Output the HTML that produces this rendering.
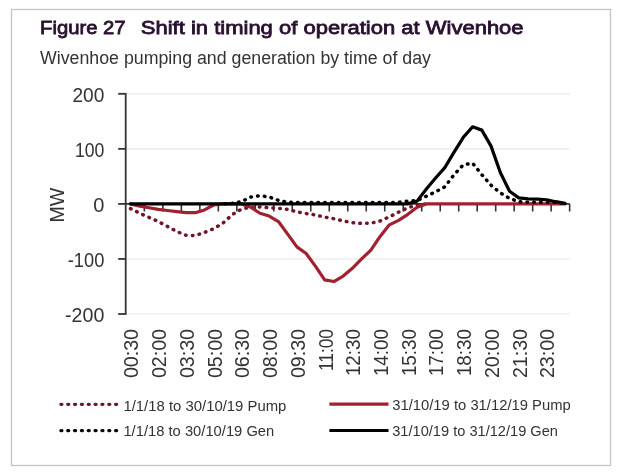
<!DOCTYPE html><html><head><meta charset="utf-8"><title>Figure 27</title><style>html,body{margin:0;padding:0;background:#fff;}svg{display:block;}text{font-family:'Liberation Sans', Arial, sans-serif;}</style></head><body>
<svg width="625" height="474" viewBox="0 0 625 474">
<rect x="0" y="0" width="625" height="474" fill="#fff"/>
<rect x="11.5" y="9.5" width="599" height="456" fill="none" stroke="#c4c4c4" stroke-width="1.3"/>
<text x="40.0" y="34.4" font-size="19.2" fill="#28102f" stroke="#28102f" stroke-width="0.8" textLength="85.6" lengthAdjust="spacingAndGlyphs">Figure 27</text>
<text x="140.8" y="34.4" font-size="19.2" fill="#28102f" stroke="#28102f" stroke-width="0.8" textLength="382.8" lengthAdjust="spacingAndGlyphs">Shift in timing of operation at Wivenhoe</text>
<text x="40.0" y="63.8" font-size="18" fill="#333" textLength="391" lengthAdjust="spacingAndGlyphs">Wivenhoe pumping and generation by time of day</text>
<line x1="126.00" y1="93.80" x2="569.64" y2="93.80" stroke="#e8e8e8" stroke-width="1.2"/>
<line x1="126.00" y1="148.85" x2="569.64" y2="148.85" stroke="#e8e8e8" stroke-width="1.2"/>
<line x1="126.00" y1="258.95" x2="569.64" y2="258.95" stroke="#e8e8e8" stroke-width="1.2"/>
<line x1="126.00" y1="314.00" x2="569.64" y2="314.00" stroke="#e8e8e8" stroke-width="1.2"/>
<line x1="125.7" y1="93.00" x2="125.7" y2="314.80" stroke="#333" stroke-width="1.8"/>
<line x1="118.2" y1="93.80" x2="125.7" y2="93.80" stroke="#333" stroke-width="1.8"/>
<text x="104.3" y="101.70" font-size="20" fill="#333" text-anchor="end" textLength="31.9" lengthAdjust="spacingAndGlyphs">200</text>
<line x1="118.2" y1="148.85" x2="125.7" y2="148.85" stroke="#333" stroke-width="1.8"/>
<text x="104.3" y="156.75" font-size="20" fill="#333" text-anchor="end" textLength="29.4" lengthAdjust="spacingAndGlyphs">100</text>
<line x1="118.2" y1="203.90" x2="125.7" y2="203.90" stroke="#333" stroke-width="1.8"/>
<text x="104.3" y="211.80" font-size="20" fill="#333" text-anchor="end">0</text>
<line x1="118.2" y1="258.95" x2="125.7" y2="258.95" stroke="#333" stroke-width="1.8"/>
<text x="104.3" y="266.85" font-size="20" fill="#333" text-anchor="end" textLength="36.5" lengthAdjust="spacingAndGlyphs">-100</text>
<line x1="118.2" y1="314.00" x2="125.7" y2="314.00" stroke="#333" stroke-width="1.8"/>
<text x="104.3" y="321.90" font-size="20" fill="#333" text-anchor="end" textLength="39.3" lengthAdjust="spacingAndGlyphs">-200</text>
<line x1="125.7" y1="203.90" x2="569.64" y2="203.90" stroke="#333" stroke-width="1.6"/>
<line x1="144.37" y1="203.90" x2="144.37" y2="211.50" stroke="#333" stroke-width="1.6"/>
<line x1="162.86" y1="203.90" x2="162.86" y2="211.50" stroke="#333" stroke-width="1.6"/>
<line x1="181.35" y1="203.90" x2="181.35" y2="211.50" stroke="#333" stroke-width="1.6"/>
<line x1="199.84" y1="203.90" x2="199.84" y2="211.50" stroke="#333" stroke-width="1.6"/>
<line x1="218.33" y1="203.90" x2="218.33" y2="211.50" stroke="#333" stroke-width="1.6"/>
<line x1="236.82" y1="203.90" x2="236.82" y2="211.50" stroke="#333" stroke-width="1.6"/>
<line x1="255.31" y1="203.90" x2="255.31" y2="211.50" stroke="#333" stroke-width="1.6"/>
<line x1="273.80" y1="203.90" x2="273.80" y2="211.50" stroke="#333" stroke-width="1.6"/>
<line x1="292.29" y1="203.90" x2="292.29" y2="211.50" stroke="#333" stroke-width="1.6"/>
<line x1="310.78" y1="203.90" x2="310.78" y2="211.50" stroke="#333" stroke-width="1.6"/>
<line x1="329.27" y1="203.90" x2="329.27" y2="211.50" stroke="#333" stroke-width="1.6"/>
<line x1="347.76" y1="203.90" x2="347.76" y2="211.50" stroke="#333" stroke-width="1.6"/>
<line x1="366.25" y1="203.90" x2="366.25" y2="211.50" stroke="#333" stroke-width="1.6"/>
<line x1="384.74" y1="203.90" x2="384.74" y2="211.50" stroke="#333" stroke-width="1.6"/>
<line x1="403.23" y1="203.90" x2="403.23" y2="211.50" stroke="#333" stroke-width="1.6"/>
<line x1="421.72" y1="203.90" x2="421.72" y2="211.50" stroke="#333" stroke-width="1.6"/>
<line x1="440.21" y1="203.90" x2="440.21" y2="211.50" stroke="#333" stroke-width="1.6"/>
<line x1="458.70" y1="203.90" x2="458.70" y2="211.50" stroke="#333" stroke-width="1.6"/>
<line x1="477.19" y1="203.90" x2="477.19" y2="211.50" stroke="#333" stroke-width="1.6"/>
<line x1="495.68" y1="203.90" x2="495.68" y2="211.50" stroke="#333" stroke-width="1.6"/>
<line x1="514.17" y1="203.90" x2="514.17" y2="211.50" stroke="#333" stroke-width="1.6"/>
<line x1="532.66" y1="203.90" x2="532.66" y2="211.50" stroke="#333" stroke-width="1.6"/>
<line x1="551.15" y1="203.90" x2="551.15" y2="211.50" stroke="#333" stroke-width="1.6"/>
<line x1="569.64" y1="203.90" x2="569.64" y2="211.50" stroke="#333" stroke-width="1.6"/>
<text transform="translate(138.36,329.0) rotate(-90)" font-size="20" fill="#333" text-anchor="end" textLength="49.1" lengthAdjust="spacingAndGlyphs">00:30</text>
<text transform="translate(166.09,329.0) rotate(-90)" font-size="20" fill="#333" text-anchor="end" textLength="49.1" lengthAdjust="spacingAndGlyphs">02:00</text>
<text transform="translate(193.83,329.0) rotate(-90)" font-size="20" fill="#333" text-anchor="end" textLength="49.1" lengthAdjust="spacingAndGlyphs">03:30</text>
<text transform="translate(221.56,329.0) rotate(-90)" font-size="20" fill="#333" text-anchor="end" textLength="49.1" lengthAdjust="spacingAndGlyphs">05:00</text>
<text transform="translate(249.30,329.0) rotate(-90)" font-size="20" fill="#333" text-anchor="end" textLength="49.1" lengthAdjust="spacingAndGlyphs">06:30</text>
<text transform="translate(277.03,329.0) rotate(-90)" font-size="20" fill="#333" text-anchor="end" textLength="49.1" lengthAdjust="spacingAndGlyphs">08:00</text>
<text transform="translate(304.77,329.0) rotate(-90)" font-size="20" fill="#333" text-anchor="end" textLength="49.1" lengthAdjust="spacingAndGlyphs">09:30</text>
<text transform="translate(332.50,329.0) rotate(-90)" font-size="20" fill="#333" text-anchor="end" textLength="42.1" lengthAdjust="spacingAndGlyphs">11:00</text>
<text transform="translate(360.24,329.0) rotate(-90)" font-size="20" fill="#333" text-anchor="end" textLength="47.1" lengthAdjust="spacingAndGlyphs">12:30</text>
<text transform="translate(387.98,329.0) rotate(-90)" font-size="20" fill="#333" text-anchor="end" textLength="47.1" lengthAdjust="spacingAndGlyphs">14:00</text>
<text transform="translate(415.71,329.0) rotate(-90)" font-size="20" fill="#333" text-anchor="end" textLength="47.1" lengthAdjust="spacingAndGlyphs">15:30</text>
<text transform="translate(443.44,329.0) rotate(-90)" font-size="20" fill="#333" text-anchor="end" textLength="47.1" lengthAdjust="spacingAndGlyphs">17:00</text>
<text transform="translate(471.18,329.0) rotate(-90)" font-size="20" fill="#333" text-anchor="end" textLength="47.1" lengthAdjust="spacingAndGlyphs">18:30</text>
<text transform="translate(498.91,329.0) rotate(-90)" font-size="20" fill="#333" text-anchor="end" textLength="49.1" lengthAdjust="spacingAndGlyphs">20:00</text>
<text transform="translate(526.65,329.0) rotate(-90)" font-size="20" fill="#333" text-anchor="end" textLength="49.1" lengthAdjust="spacingAndGlyphs">21:30</text>
<text transform="translate(554.38,329.0) rotate(-90)" font-size="20" fill="#333" text-anchor="end" textLength="49.1" lengthAdjust="spacingAndGlyphs">23:00</text>
<text transform="translate(64.2,205.2) rotate(-90)" font-size="19.6" fill="#333" text-anchor="middle">MW</text>
<polyline points="130.50,208.58 139.75,213.26 148.99,217.39 158.24,221.52 167.48,226.47 176.72,231.43 185.97,235.28 195.21,235.55 204.46,232.53 213.70,228.67 222.95,223.17 232.19,214.63 241.44,209.13 250.69,207.20 259.93,206.93 269.17,207.75 278.42,208.30 287.66,209.41 296.91,211.88 306.15,213.53 315.40,214.91 324.64,217.11 333.89,218.76 343.13,220.97 352.38,222.62 361.62,223.44 370.87,223.17 380.12,220.97 389.36,216.84 398.60,212.16 407.85,207.75 417.09,205.00 426.34,203.90" fill="none" stroke="#731326" stroke-width="3.5" stroke-linecap="round" stroke-linejoin="round" stroke-dasharray="0.6 6.2"/>
<polyline points="130.50,203.90 139.75,206.10 148.99,207.75 158.24,209.41 167.48,210.51 176.72,211.61 185.97,212.71 195.21,212.71 204.46,209.96 213.70,205.00 222.95,203.90 232.19,203.90 241.44,203.90 250.69,207.20 259.93,213.26 269.17,216.01 278.42,221.52 287.66,234.18 296.91,246.84 306.15,253.44 315.40,266.11 324.64,279.87 333.89,281.52 343.13,276.02 352.38,268.31 361.62,258.95 370.87,250.14 380.12,236.38 389.36,224.82 398.60,220.42 407.85,214.36 417.09,207.20 426.34,203.90 435.58,203.90 444.83,203.90 454.07,203.90 463.32,203.90 472.56,203.90 481.81,203.90 491.05,203.90 500.30,203.90 509.54,203.90 518.79,203.90 528.03,203.90 537.28,203.90 546.52,203.90 555.77,203.90 565.01,203.90" fill="none" stroke="#a1212f" stroke-width="3.2" stroke-linecap="round" stroke-linejoin="round"/>
<polyline points="222.95,203.90 232.19,203.35 241.44,201.70 250.69,197.02 259.93,195.64 269.17,197.02 278.42,200.32 287.66,202.25 296.91,202.52 306.15,202.52 315.40,202.52 324.64,202.52 333.89,202.52 343.13,202.52 352.38,202.52 361.62,202.52 370.87,202.52 380.12,202.52 389.36,202.52 398.60,202.25 407.85,201.15 417.09,200.60 426.34,196.19 435.58,191.79 444.83,186.83 454.07,174.72 463.32,164.81 472.56,163.16 481.81,174.72 491.05,185.18 500.30,192.89 509.54,198.40 518.79,201.70 528.03,202.25 537.28,202.25 546.52,202.25 555.77,202.25 565.01,203.35" fill="none" stroke="#000" stroke-width="3.5" stroke-linecap="round" stroke-linejoin="round" stroke-dasharray="0.6 6.2" stroke-dashoffset="4.8"/>
<polyline points="130.50,203.90 139.75,203.90 148.99,203.90 158.24,203.90 167.48,203.90 176.72,203.90 185.97,203.90 195.21,203.90 204.46,203.90 213.70,203.90 222.95,203.90 232.19,203.90 241.44,203.90 250.69,203.90 259.93,203.90 269.17,203.90 278.42,203.90 287.66,203.90 296.91,203.90 306.15,203.90 315.40,203.90 324.64,203.90 333.89,203.90 343.13,203.90 352.38,203.90 361.62,203.90 370.87,203.90 380.12,203.90 389.36,203.90 398.60,203.90 407.85,203.90 417.09,201.15 426.34,189.04 435.58,178.03 444.83,167.57 454.07,152.15 463.32,137.29 472.56,126.83 481.81,130.13 491.05,146.10 500.30,172.52 509.54,191.24 518.79,197.84 528.03,198.95 537.28,199.22 546.52,199.77 555.77,201.70 565.01,203.35" fill="none" stroke="#000" stroke-width="3.2" stroke-linecap="round" stroke-linejoin="round"/>
<line x1="60.9" y1="404.3" x2="117.2" y2="404.3" stroke="#731326" stroke-width="3.3" stroke-linecap="round" stroke-dasharray="1.0 5.84"/>
<line x1="60.9" y1="430.6" x2="117.2" y2="430.6" stroke="#000" stroke-width="3.3" stroke-linecap="round" stroke-dasharray="1.0 5.84"/>
<line x1="329.4" y1="404.2" x2="388.5" y2="404.2" stroke="#a1212f" stroke-width="3.2"/>
<line x1="329.4" y1="430.5" x2="388.5" y2="430.5" stroke="#000" stroke-width="3.2"/>
<text x="123.4" y="410.8" font-size="15.2" fill="#333" textLength="163" lengthAdjust="spacingAndGlyphs">1/1/18 to 30/10/19 Pump</text>
<text x="123.4" y="435.9" font-size="15.2" fill="#333" textLength="150.9" lengthAdjust="spacingAndGlyphs">1/1/18 to 30/10/19 Gen</text>
<text x="392.2" y="410.3" font-size="15.2" fill="#333" textLength="178.6" lengthAdjust="spacingAndGlyphs">31/10/19 to 31/12/19 Pump</text>
<text x="392.2" y="435.9" font-size="15.2" fill="#333" textLength="165.8" lengthAdjust="spacingAndGlyphs">31/10/19 to 31/12/19 Gen</text>
</svg></body></html>
